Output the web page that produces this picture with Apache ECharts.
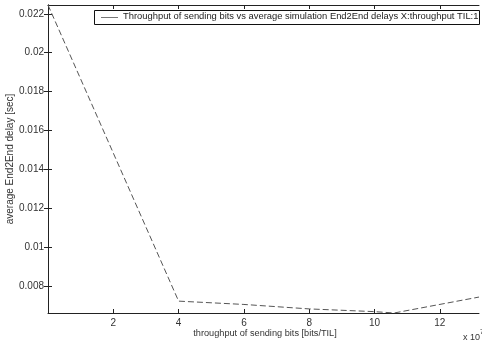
<!DOCTYPE html>
<html>
<head>
<meta charset="utf-8">
<script src="https://cdn.jsdelivr.net/npm/echarts@6/dist/echarts.min.js"></script>
<style>html,body{margin:0;padding:0;background:#fff}#c{width:482px;height:343px}</style>
</head>
<body>
<div id="c"></div>
<script>
// throughput (x 10^7 bits/TIL)
const throughput = [0, 4, 6, 8, 10, 10.6, 13.2];
// average End2End delay [sec]
const delay = [0.02245, 0.00722, 0.00705, 0.00682, 0.00668, 0.00661, 0.00743];
const xTicks = [2, 4, 6, 8, 10, 12];
const yTicks = [0.008, 0.01, 0.012, 0.014, 0.016, 0.018, 0.02, 0.022];
const seriesName = 'Throughput of sending bits vs average simulation End2End delays X:throughput TIL:1';
const xName = 'throughput of sending bits [bits/TIL]';
const yName = 'average End2End delay [sec]';

const font = 'Liberation Sans, Arial, sans-serif';
const txt = '#333';
const chart = echarts.init(document.getElementById('c'));
const yFmt = v => String(+(+v).toFixed(3));
const yMin = 0.00661, yMax = 0.02245, xMin = 0, xMax = 13.2;

chart.setOption({
  animation: false,
  grid: {left: 48, right: 3, top: 5, bottom: 30, outerBoundsMode: 'none', containLabel: false},
  xAxis: [{
    type: 'value', min: xMin, max: xMax, position: 'bottom',
    axisLine: {lineStyle: {color: '#222', width: 1}},
    axisTick: {inside: true, length: 4, customValues: xTicks, lineStyle: {color: '#222'}},
    axisLabel: {customValues: xTicks, fontFamily: font, fontSize: 10, color: txt, margin: 5},
    splitLine: {show: false}
  }, {
    type: 'value', min: xMin, max: xMax, position: 'top',
    axisLine: {show: true, lineStyle: {color: '#222', width: 1}},
    axisTick: {inside: true, length: 4, customValues: xTicks, lineStyle: {color: '#222'}},
    axisLabel: {show: false}, splitLine: {show: false}
  }],
  yAxis: [{
    type: 'value', min: yMin, max: yMax, position: 'left',
    axisLine: {show: true, lineStyle: {color: '#222', width: 1}},
    axisTick: {show: true, inside: true, length: 4, customValues: yTicks, lineStyle: {color: '#222'}},
    axisLabel: {customValues: yTicks, formatter: yFmt, fontFamily: font, fontSize: 10, color: txt, margin: 4},
    splitLine: {show: false}
  }, {
    type: 'value', min: yMin, max: yMax, position: 'right',
    axisLine: {show: true, lineStyle: {color: '#222', width: 1}},
    axisTick: {show: true, inside: true, length: 4, customValues: yTicks, lineStyle: {color: '#222'}},
    axisLabel: {show: false}, splitLine: {show: false}
  }],
  graphic: [{
    type: 'rect', left: 94, top: 10, z: 10,
    shape: {width: 385, height: 14},
    style: {fill: '#fff', stroke: '#111', lineWidth: 1}
  }, {
    type: 'line', z: 11,
    shape: {x1: 101, y1: 17.5, x2: 118, y2: 17.5},
    style: {stroke: '#777', lineWidth: 1}
  }, {
    type: 'text', left: 123, top: 12, z: 11,
    style: {text: seriesName, fontFamily: font, fontSize: 9.4, fill: '#222'}
  }, {
    type: 'text', x: 265, y: 333,
    style: {text: xName, fontFamily: font, fontSize: 9.2, fill: txt, align: 'center', verticalAlign: 'middle'}
  }, {
    type: 'text', x: 10, y: 159, rotation: Math.PI / 2,
    style: {text: yName, fontFamily: font, fontSize: 10, fill: txt, align: 'center', verticalAlign: 'middle'}
  }, {
    type: 'text', left: 463, top: 329,
    style: {
      text: '{a|x 10}{b|7}',
      rich: {
        a: {fontFamily: font, fontSize: 9, fill: txt, padding: [6, 0, 0, 0]},
        b: {fontFamily: font, fontSize: 7, fill: txt, padding: [0, 0, 4, 0]}
      }
    }
  }],
  series: [{
    name: seriesName, type: 'line', xAxisIndex: 0, yAxisIndex: 0,
    data: throughput.map((x, i) => [x, delay[i]]),
    showSymbol: false, symbol: 'none',
    lineStyle: {color: '#555', width: 1, type: [6, 3]},
    itemStyle: {color: '#666'}
  }]
});
</script>
</body>
</html>
